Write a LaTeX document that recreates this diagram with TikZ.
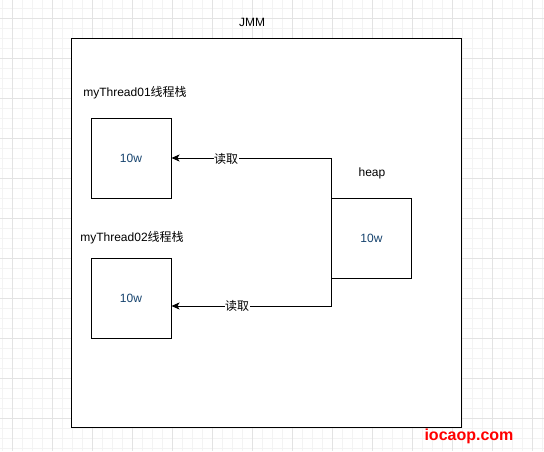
\documentclass[tikz,border=0pt]{standalone}
\usepackage{fontspec}
\setmainfont{Liberation Sans}
\newfontfamily\cjk{Noto Sans CJK SC}
\usetikzlibrary{arrows.meta}
\definecolor{minorgrid}{HTML}{F3F3F3}
\definecolor{majorgrid}{HTML}{E3E3E3}
\definecolor{valblue}{HTML}{16436E}
\definecolor{wmred}{HTML}{FF0000}
\begin{document}
\begin{tikzpicture}[x=1pt,y=-1pt,
  txt/.style={font=\fontsize{12pt}{14pt}\selectfont, inner sep=0pt, text=black},
  box/.style={draw=black, line width=1pt, fill=white, minimum width=80pt, minimum height=80pt, inner sep=0pt,
    font=\fontsize{12pt}{14pt}\selectfont, text=valblue},
  arr/.style={draw=black, line width=1pt, -{Stealth[length=8pt,width=7pt,inset=2pt]}},
  lbl/.style={txt, fill=white, inner sep=0.5pt}
]
\useasboundingbox (0,0) rectangle (544,451);
\fill[white] (0,0) rectangle (544,451);
% grid
\foreach \i in {2,12,...,542} \draw[minorgrid, line width=1pt] (\i,0) -- (\i,451);
\foreach \j in {8,18,...,448} \draw[minorgrid, line width=1pt] (0,\j) -- (544,\j);
\foreach \i in {12,52,...,532} \draw[majorgrid, line width=1pt] (\i,0) -- (\i,451);
\foreach \j in {18,58,...,418} \draw[majorgrid, line width=1pt] (0,\j) -- (544,\j);
% outer JMM box
\draw[black, line width=1pt, fill=white] (71.5,38.5) rectangle (461.5,427.5);
\node[txt] (jmm) at (252,22) {JMM};
\node[txt] (t1) at (135,93) {myThread01{\cjk 线程栈}};
\node[txt] (t2) at (132,238) {myThread02{\cjk 线程栈}};
\node[box] (b1) at (131,158) {10w};
\node[box] (b2) at (131,298) {10w};
\node[box] (heap) at (371.5,238) {10w};
\node[txt] (hl) at (372,173) {heap};
\coordinate (e2) at ([yshift=-8pt]b2.east);
\draw[arr] (heap.north west) |- (b1.east);
\draw[arr] (heap.south west) |- (e2);
\node[lbl] (r1) at (226,159) {\cjk 读取};
\node[lbl] (r2) at (237,306) {\cjk 读取};
\node[font=\fontsize{16pt}{18pt}\selectfont\bfseries, text=wmred, inner sep=0pt] (wm) at (469,436) {iocaop.com};
\end{tikzpicture}
\end{document}
